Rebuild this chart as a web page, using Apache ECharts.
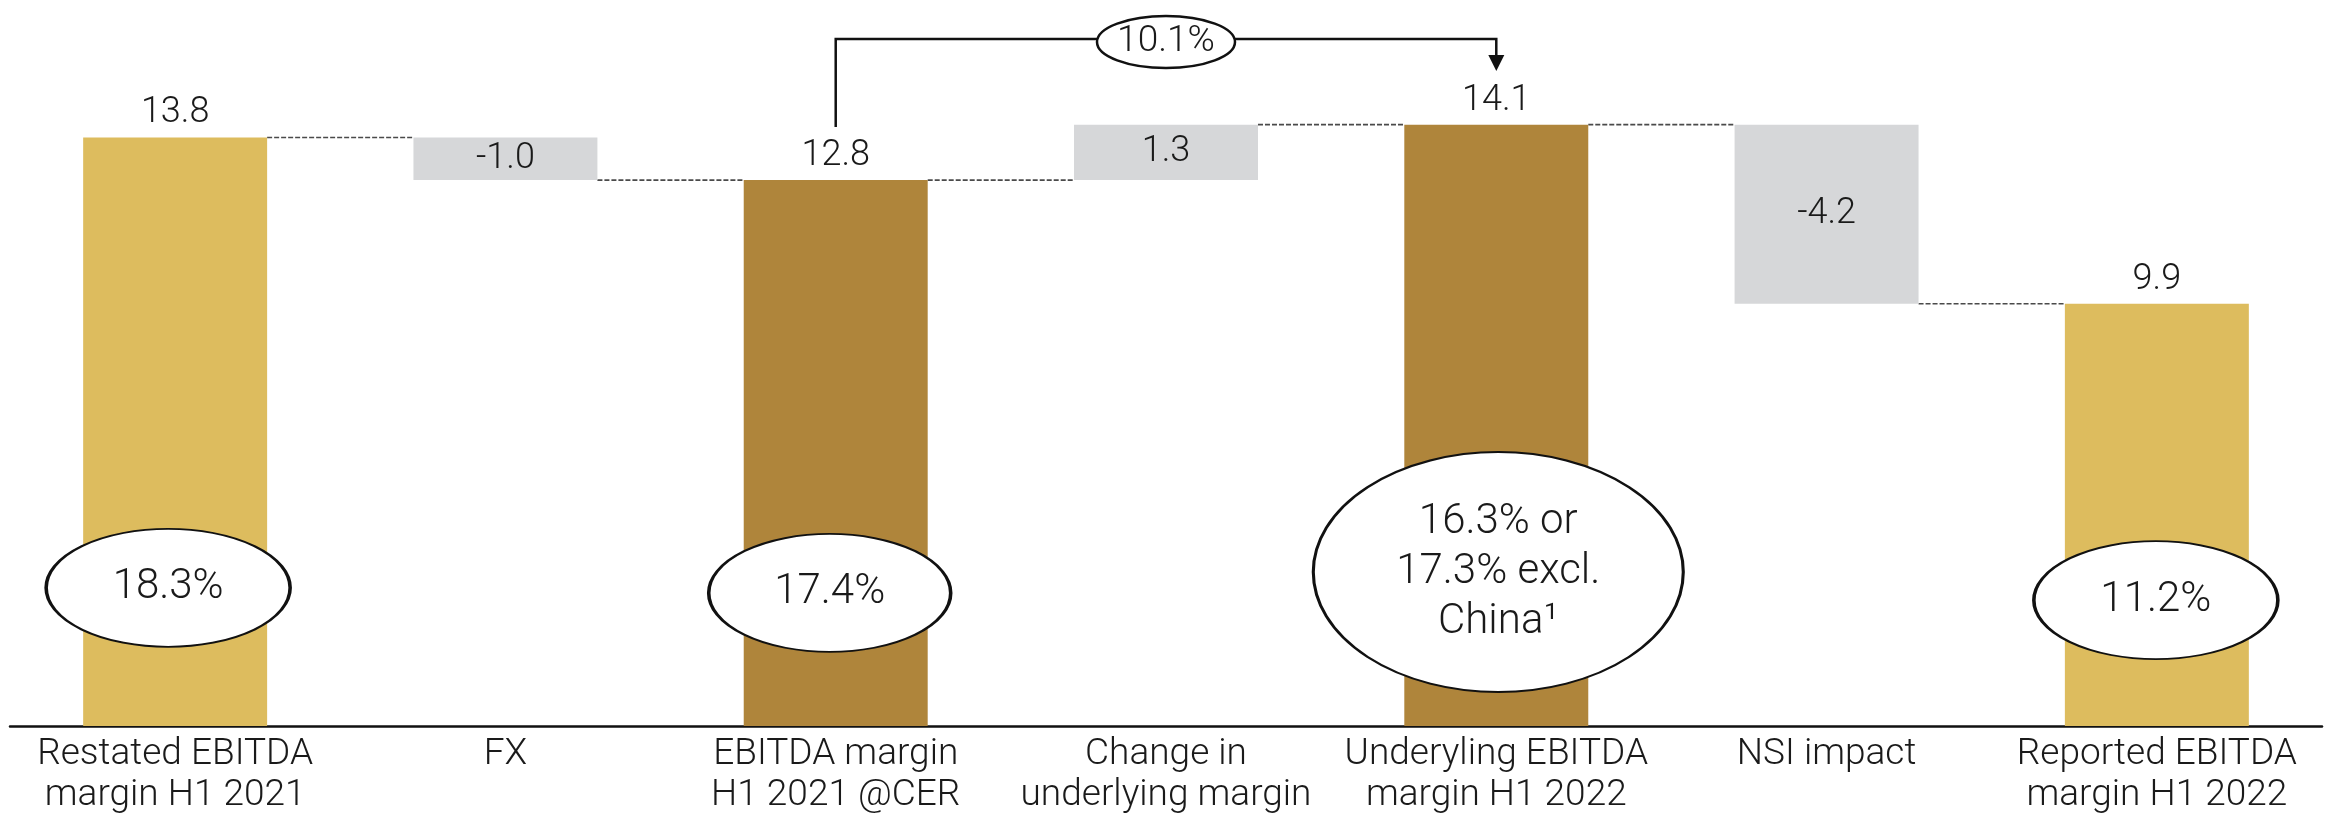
<!DOCTYPE html>
<html><head><meta charset="utf-8">
<script src="https://cdn.jsdelivr.net/npm/echarts@6/dist/echarts.min.js"></script>
<style>html,body{margin:0;padding:0;background:#fff}#c{width:2331px;height:822px}</style>
</head><body><div id="c"></div>
<script>
// ---- data ----
const categories = ['Restated EBITDA\nmargin H1 2021', 'FX', 'EBITDA margin\nH1 2021 @CER', 'Change in\nunderlying margin', 'Underyling EBITDA\nmargin H1 2022', 'NSI impact', 'Reported EBITDA\nmargin H1 2022'];
const values = [13.8, -1.0, 12.8, 1.3, 14.1, -4.2, 9.9];
const isTotal = [true, false, true, false, true, false, true];
const totalShade = ['light', null, 'dark', null, 'dark', null, 'light'];
const marginLabels = ['18.3%', null, '17.4%', null, '16.3% or\n17.3% excl.\nChina¹', null, '11.2%'];
const bridgeFrom = 2, bridgeTo = 4;
const bridgeLabel = '10.1%';

// ---- styles / layout ----
const FONT = 'Roboto';
const TXT = '#1a1a1a';
const COLORS = { light: '#DDBC5E', dark: '#AF853B', delta: '#D6D7D9' };
const BAR_GAP = 0.443;
const ellipseLift = [3.24, null, 3.12, null, 3.61, null, 2.95];
const ellipseSize = [[244, 118], null, [242, 118], null, [370, 240], null, [244, 118]];
const ellipseShift = [[-7, 0], null, [-6, 0], null, [2, 0], null, [-1, 0]];

// waterfall derivation
let running = 0;
const base = [], height = [], level = [];
values.forEach((v, i) => {
  if (isTotal[i]) { base.push(0); height.push(v); running = v; }
  else { base.push(Math.min(running, running + v)); height.push(Math.abs(v)); running = running + v; }
  level.push(running);
});
const connectors = [];
for (let i = 0; i < values.length - 1; i++) connectors.push([i, level[i]]);

const mainData = values.map((v, i) => ({
  value: height[i],
  itemStyle: { color: isTotal[i] ? COLORS[totalShade[i]] : COLORS.delta },
  label: isTotal[i] ? { position: 'top', distance: 6 } : { position: 'inside' }
}));

const ellData = [];
marginLabels.forEach((t, i) => {
  if (t) ellData.push({ value: [i, ellipseLift[i]], symbolSize: ellipseSize[i], symbolOffset: ellipseShift[i], label: { formatter: t } });
});

const chart = echarts.init(document.getElementById('c'));
chart.setOption({
  animation: false,
  grid: { left: 10, right: 9, top: 43.6, bottom: 96, containLabel: false },
  xAxis: {
    type: 'category', data: categories,
    axisLine: { lineStyle: { color: '#111', width: 2.5 } },
    axisTick: { show: false },
    axisLabel: { interval: 0, fontFamily: FONT, fontWeight: 300, fontSize: 37, lineHeight: 41, color: TXT, margin: 8 }
  },
  yAxis: { type: 'value', min: 0, max: 16, show: false, splitLine: { show: false } },
  series: [
    { type: 'bar', stack: 'w', data: base, itemStyle: { color: 'transparent' }, barCategoryGap: (BAR_GAP * 100) + '%', silent: true },
    {
      type: 'bar', stack: 'w', data: mainData, barCategoryGap: (BAR_GAP * 100) + '%', silent: true,
      label: {
        show: true, fontFamily: FONT, fontWeight: 300, fontSize: 36, color: TXT,
        formatter: p => values[p.dataIndex].toFixed(1)
      }
    },
    {
      type: 'custom', data: connectors, silent: true, z: 1,
      renderItem: (params, api) => {
        const i = api.value(0), lv = api.value(1);
        const p1 = api.coord([i, lv]), p2 = api.coord([i + 1, lv]);
        const bw = api.size([1, 0])[0] * (1 - BAR_GAP);
        return { type: 'line', shape: { x1: p1[0] + bw / 2, y1: p1[1], x2: p2[0] - bw / 2, y2: p2[1] },
          style: { stroke: '#4a4a4a', lineWidth: 1.6, lineDash: [5, 2] } };
      }
    },
    {
      type: 'scatter', data: ellData, symbol: 'circle', silent: true, z: 5,
      itemStyle: { color: '#fff', borderColor: '#111', borderWidth: 2.5, opacity: 1 },
      label: { show: true, position: 'inside', fontFamily: FONT, fontWeight: 300, fontSize: 42, lineHeight: 50, color: TXT, opacity: 1 }
    }
  ]
});

// bridge bracket
const xFrom = chart.convertToPixel({ xAxisIndex: 0 }, bridgeFrom);
const xTo = chart.convertToPixel({ xAxisIndex: 0 }, bridgeTo);
const xMid = (xFrom + xTo) / 2;
const topY = 39, startY = 127, headTop = 55, headTip = 71;
const rx = 69, ry = 26;
chart.setOption({
  graphic: [
    { type: 'polyline', silent: true, shape: { points: [[xFrom, startY], [xFrom, topY], [xMid - rx, topY]] }, style: { stroke: '#111', lineWidth: 2.5, fill: null } },
    { type: 'polyline', silent: true, shape: { points: [[xMid + rx, topY], [xTo, topY], [xTo, headTop]] }, style: { stroke: '#111', lineWidth: 2.5, fill: null } },
    { type: 'polygon', silent: true, shape: { points: [[xTo - 8, headTop], [xTo + 8, headTop], [xTo, headTip]] }, style: { fill: '#111' } },
    { type: 'ellipse', silent: true, shape: { cx: xMid, cy: topY + 3, rx: rx, ry: ry }, style: { fill: '#fff', stroke: '#111', lineWidth: 2.5 } },
    { type: 'text', silent: true, x: xMid, y: topY + 3, style: { text: bridgeLabel, fill: TXT, font: '300 37px Roboto', align: 'center', verticalAlign: 'middle' } }
  ]
});
</script>
</body></html>
